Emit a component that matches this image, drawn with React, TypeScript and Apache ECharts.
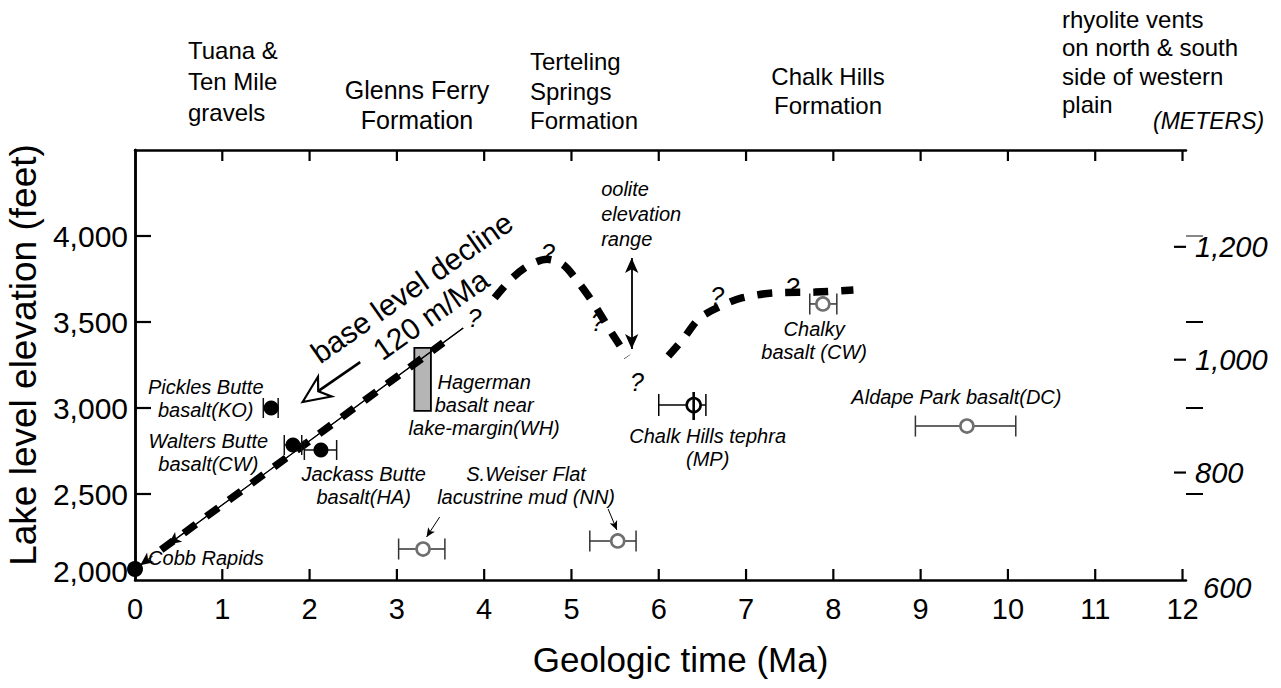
import React, { useEffect, useRef } from "react";
import * as echarts from "echarts";

const FONT = '"Liberation Sans", Arial, Helvetica, sans-serif';

// ---- axes ----
const AGE_MIN = 0;
const AGE_MAX = 12.04;
const AGE_STEP = 1;
const FEET_MIN = 2000;
const FEET_MAX = 4500;
const FEET_STEP = 500;
const FEET_TOP_LABEL_LIMIT = 4000;
const M_PER_FT = 0.3048;
const ageTicks = [1, 2, 3, 4, 5, 6, 7, 8, 9, 10, 11, 12];
const feetTicks = [2500, 3000, 3500, 4000];
const meterLabels = [800, 1000, 1200];
const rightFeetTicks = [2500, 3000, 3500];
const rightGrayTicks = [4000];

// ---- lake-level reconstruction ----
const trendAge = [0.38, 3.76];
const trendElev = [2206, 3465];
const declineAge = [0.3, 3.53];
const declineElev = [2176, 3379];
const highstandAge = [4.12, 4.3, 4.5, 4.72, 4.9, 5.05, 5.25, 5.45, 5.64];
const highstandElev = [3640, 3745, 3825, 3865, 3835, 3750, 3610, 3445, 3297];
const chalkHillsAge = [6.11, 6.27, 6.47, 6.74, 6.95, 7.31, 7.79, 8.23];
const chalkHillsElev = [3302, 3395, 3523, 3599, 3640, 3669, 3674, 3686];

// ---- dated samples ----
const cobbAge = [0];
const cobbElev = [2064];
const basaltAge = [1.56, 1.81, 2.13];
const basaltElev = [3000, 2785, 2756];
const basaltAgeMin = [1.47, 1.71, 1.94];
const basaltAgeMax = [1.64, 1.91, 2.31];

const openAge = [3.3, 5.53, 7.88, 9.53];
const openElev = [2180, 2227, 3605, 2895];
const openAgeMin = [3.02, 5.21, 7.73, 8.94];
const openAgeMax = [3.55, 5.74, 8.04, 10.09];

const tephraAge = [6.4];
const tephraElev = [3017];
const tephraAgeMin = [6.0];
const tephraAgeMax = [6.54];
const tephraElevMin = [2930];
const tephraElevMax = [3093];

const hagermanAge = [3.2, 3.39];
const hagermanElev = [2983, 3349];

const ooliteAge = [5.69];
const ooliteElev = [3343, 3872];

// ---- annotation anchors (data coordinates) ----
const sampleNotes = [
  { text: "Cobb Rapids", age: 0.15, elev: 2128, align: "left" },
  { text: "Pickles Butte\nbasalt(KO)", age: 0.81, elev: 3058, align: "center" },
  { text: "Walters Butte\nbasalt(CW)", age: 0.84, elev: 2744, align: "center" },
  { text: "Jackass Butte\nbasalt(HA)", age: 2.62, elev: 2549, align: "center" },
  { text: "Hagerman\nbasalt near\nlake-margin(WH)", age: 4.0, elev: 3017, align: "center" },
  { text: "S.Weiser Flat\nlacustrine mud (NN)", age: 4.48, elev: 2549, align: "center" },
  { text: "Chalk Hills tephra\n(MP)", age: 6.56, elev: 2770, align: "center" },
  { text: "Chalky\nbasalt (CW)", age: 7.78, elev: 3395, align: "center" },
  { text: "Aldape Park basalt(DC)", age: 9.41, elev: 3064, align: "center" },
  { text: "oolite\nelevation\nrange", age: 5.34, elev: 4128, align: "left" },
];
const queryAge = [3.89, 4.73, 5.3, 5.75, 6.67, 7.53];
const queryElev = [3523, 3901, 3500, 3151, 3651, 3703];
const declineNote = { text: "base level decline\n120 m/Ma", age: 3.28, elev: 3622 };
const declineArrow = { fromAge: 2.58, fromElev: 3267, toAge: 1.92, toElev: 3035 };
const pointerArrows = [
  { fromAge: 3.49, fromElev: 2366, toAge: 3.34, toElev: 2250 },
  { fromAge: 5.42, fromElev: 2413, toAge: 5.52, toElev: 2291 },
];
const cobbPointer = { fromAge: 0.2, fromElev: 2139, toAge: 0.06, toElev: 2086 };

const zip = (a: number[], b: number[]) => a.map((v, i) => [v, b[i]]);
const isWhole = (v: number) => Math.abs(v - Math.round(v)) < 1e-6;

function errorBar(cap: number, color: string, width: number) {
  return (params: any, api: any) => {
    const y = api.value(3);
    const a = api.coord([api.value(1), y]);
    const b = api.coord([api.value(2), y]);
    const st = { stroke: color, lineWidth: width };
    return {
      type: "group",
      children: [
        { type: "line", shape: { x1: a[0], y1: a[1], x2: b[0], y2: b[1] }, style: st },
        { type: "line", shape: { x1: a[0], y1: a[1] - cap, x2: a[0], y2: a[1] + cap }, style: st },
        { type: "line", shape: { x1: b[0], y1: b[1] - cap, x2: b[0], y2: b[1] + cap }, style: st },
      ],
    };
  };
}

const tickLine = (x1: number, y1: number, x2: number, y2: number) => ({
  type: "line",
  shape: { x1, y1, x2, y2 },
  style: { stroke: "#000", lineWidth: 2.2 },
});

function buildOption(): any {
  const axisLine = { show: true, lineStyle: { color: "#000", width: 2.5 } };
  const tickStyle = { color: "#000", width: 2 };
  const dashed = { color: "#000", width: 7.5, type: [15, 13], cap: "butt" };

  return {
    animation: false,
    backgroundColor: "#fff",
    grid: { left: 135, right: 95, top: 150, bottom: 108, containLabel: false, outerBoundsMode: "none" },
    xAxis: [
      {
        type: "value",
        min: AGE_MIN,
        max: AGE_MAX,
        interval: AGE_STEP,
        position: "bottom",
        axisLine,
        axisTick: { show: false },
        axisLabel: {
          fontSize: 29,
          color: "#000",
          fontFamily: FONT,
          margin: 14,
          showMaxLabel: false,
          formatter: (v: number) => (isWhole(v) ? String(Math.round(v)) : ""),
        },
        splitLine: { show: false },
        name: "Geologic time (Ma)",
        nameLocation: "middle",
        nameGap: 62,
        nameTextStyle: { fontSize: 35, color: "#000", fontFamily: FONT, padding: [0, 0, 0, 40] },
      },
      {
        type: "value",
        min: AGE_MIN,
        max: AGE_MAX,
        interval: AGE_STEP,
        position: "top",
        axisLine,
        axisTick: { show: false },
        axisLabel: { show: false },
        splitLine: { show: false },
      },
    ],
    yAxis: [
      {
        type: "value",
        min: FEET_MIN,
        max: FEET_MAX,
        interval: FEET_STEP,
        position: "left",
        axisLine,
        axisTick: { show: false },
        axisLabel: {
          fontSize: 30,
          color: "#000",
          fontFamily: FONT,
          margin: 7,
          formatter: (v: number) =>
            v === FEET_MIN ? `{low|${v.toLocaleString("en-US")}}` : v <= FEET_TOP_LABEL_LIMIT ? v.toLocaleString("en-US") : "",
          rich: { low: { fontSize: 30, color: "#000", fontFamily: FONT, padding: [0, 0, 18, 0] } },
        },
        splitLine: { show: false },
        name: "Lake level elevation (feet)",
        nameLocation: "middle",
        nameRotate: 90,
        nameGap: 82,
        nameTextStyle: { fontSize: 37, color: "#000", fontFamily: FONT, padding: [0, 0, 0, 20] },
      },
      {
        type: "value",
        min: FEET_MIN * M_PER_FT,
        max: FEET_MAX * M_PER_FT,
        position: "right",
        axisLine,
        axisTick: { show: false },
        axisLabel: {
          customValues: meterLabels,
          fontSize: 29,
          fontStyle: "italic",
          color: "#000",
          fontFamily: FONT,
          margin: 9,
          formatter: (v: number) => v.toLocaleString("en-US"),
        },
        splitLine: { show: false },
      },
      {
        type: "value",
        min: FEET_MIN,
        max: FEET_MAX,
        position: "right",
        axisLine: { show: false },
        axisTick: { show: true, inside: false, length: 17, customValues: rightFeetTicks, lineStyle: tickStyle },
        axisLabel: { show: false },
        splitLine: { show: false },
      },
      {
        type: "value",
        min: FEET_MIN,
        max: FEET_MAX,
        position: "right",
        axisLine: { show: false },
        axisTick: { show: true, inside: false, length: 17, customValues: rightGrayTicks, lineStyle: { color: "#888", width: 2 } },
        axisLabel: { show: false },
        splitLine: { show: false },
      },
    ],
    graphic: [
      { type: "text", x: 188, y: 81, style: { text: "Tuana &\nTen Mile\ngravels", fontSize: 24, lineHeight: 31, fontFamily: FONT, fill: "#000", align: "left", verticalAlign: "middle" } },
      { type: "text", x: 417, y: 105, style: { text: "Glenns Ferry\nFormation", fontSize: 25, lineHeight: 30, fontFamily: FONT, fill: "#000", align: "center", verticalAlign: "middle" } },
      { type: "text", x: 530, y: 91, style: { text: "Terteling\nSprings\nFormation", fontSize: 24, lineHeight: 29.5, fontFamily: FONT, fill: "#000", align: "left", verticalAlign: "middle" } },
      { type: "text", x: 828, y: 91, style: { text: "Chalk Hills\nFormation", fontSize: 24, lineHeight: 29, fontFamily: FONT, fill: "#000", align: "center", verticalAlign: "middle" } },
      { type: "text", x: 1062, y: 62, style: { text: "rhyolite vents\non north & south\nside of western\nplain", fontSize: 24, lineHeight: 28.5, fontFamily: FONT, fill: "#000", align: "left", verticalAlign: "middle" } },
      { type: "text", x: 1153, y: 121, style: { text: "(METERS)", fontSize: 23, fontStyle: "italic", fontFamily: FONT, fill: "#000", align: "left", verticalAlign: "middle" } },
      { type: "text", x: 1203, y: 588, style: { text: "600", fontSize: 29, fontStyle: "italic", fontFamily: FONT, fill: "#000", align: "left", verticalAlign: "middle" } },
    ],
    series: [
      {
        type: "custom",
        name: "Hagerman basalt",
        z: 1,
        renderItem: (params: any, api: any) => {
          const p1 = api.coord([api.value(0), api.value(3)]);
          const p2 = api.coord([api.value(1), api.value(2)]);
          return {
            type: "rect",
            shape: { x: p1[0], y: p1[1], width: p2[0] - p1[0], height: p2[1] - p1[1] },
            style: { fill: "#b5b5b5", stroke: "#000", lineWidth: 1.8 },
          };
        },
        encode: { x: [0, 1], y: [2, 3] },
        data: [[hagermanAge[0], hagermanAge[1], hagermanElev[0], hagermanElev[1]]],
      },
      {
        type: "custom",
        name: "age ticks",
        z: 2,
        clip: false,
        renderItem: (params: any, api: any) => {
          const b = api.coord([api.value(0), FEET_MIN]);
          const t = api.coord([api.value(0), FEET_MAX]);
          return { type: "group", children: [tickLine(b[0], b[1], b[0], b[1] - 11), tickLine(t[0], t[1], t[0], t[1] + 11)] };
        },
        encode: { x: 0, y: 1 },
        data: ageTicks.map((a) => [a, FEET_MIN]),
      },
      {
        type: "custom",
        name: "feet ticks",
        z: 2,
        clip: false,
        renderItem: (params: any, api: any) => {
          const p = api.coord([AGE_MIN, api.value(1)]);
          return tickLine(p[0], p[1], p[0] + 16, p[1]);
        },
        encode: { x: 0, y: 1 },
        data: feetTicks.map((f) => [AGE_MIN, f]),
      },
      {
        type: "custom",
        name: "meter ticks",
        z: 2,
        clip: false,
        renderItem: (params: any, api: any) => {
          const p = api.coord([AGE_MAX, api.value(1)]);
          return tickLine(p[0] - 12, p[1], p[0], p[1]);
        },
        encode: { x: 0, y: 1 },
        data: meterLabels.map((m) => [AGE_MAX, m / M_PER_FT]),
      },
      {
        type: "line",
        name: "base level trend",
        z: 2,
        data: zip(trendAge, trendElev),
        symbol: "none",
        lineStyle: { color: "#000", width: 1.1 },
        markLine: {
          silent: true,
          symbol: ["none", "arrow"],
          symbolSize: [9, 13],
          label: { show: false },
          lineStyle: { color: "#000", width: 1.1, type: "solid" },
          data: [
            [{ coord: [trendAge[1], trendElev[1]] }, { coord: [trendAge[0], trendElev[0]] }],
            [{ coord: [cobbPointer.fromAge, cobbPointer.fromElev] }, { coord: [cobbPointer.toAge, cobbPointer.toElev] }],
          ],
        },
      },
      { type: "line", name: "decline", z: 3, data: zip(declineAge, declineElev), symbol: "none", lineStyle: dashed },
      { type: "line", name: "highstand", z: 3, data: zip(highstandAge, highstandElev), smooth: 0.3, symbol: "none", lineStyle: dashed },
      { type: "line", name: "Chalk Hills lake", z: 3, data: zip(chalkHillsAge, chalkHillsElev), smooth: 0.3, symbol: "none", lineStyle: dashed },
      {
        type: "custom",
        name: "basalt error",
        z: 4,
        renderItem: errorBar(10, "#111", 1.5),
        encode: { x: [0, 1, 2], y: 3 },
        data: basaltAge.map((a, i) => [a, basaltAgeMin[i], basaltAgeMax[i], basaltElev[i]]),
      },
      {
        type: "custom",
        name: "open error",
        z: 4,
        renderItem: errorBar(10.5, "#333", 1.5),
        encode: { x: [0, 1, 2], y: 3 },
        data: openAge.map((a, i) => [a, openAgeMin[i], openAgeMax[i], openElev[i]]),
      },
      {
        type: "custom",
        name: "tephra error",
        z: 4,
        renderItem: errorBar(11, "#000", 1.5),
        encode: { x: [0, 1, 2], y: 3 },
        data: tephraAge.map((a, i) => [a, tephraAgeMin[i], tephraAgeMax[i], tephraElev[i]]),
      },
      {
        type: "scatter",
        name: "basalts",
        z: 5,
        symbolSize: 15,
        itemStyle: { color: "#000", opacity: 1 },
        data: zip(basaltAge, basaltElev),
      },
      {
        type: "scatter",
        name: "Cobb Rapids",
        z: 5,
        clip: false,
        symbolSize: 16,
        itemStyle: { color: "#000", opacity: 1 },
        data: zip(cobbAge, cobbElev),
      },
      {
        type: "scatter",
        name: "open samples",
        z: 5,
        symbolSize: 13,
        itemStyle: { color: "#fff", borderColor: "#6f6f6f", borderWidth: 2.6, opacity: 1 },
        data: zip(openAge, openElev),
        markLine: {
          silent: true,
          symbol: ["none", "arrow"],
          symbolSize: [6, 9],
          label: { show: false },
          lineStyle: { color: "#000", width: 1, type: "solid" },
          data: pointerArrows.map((p) => [{ coord: [p.fromAge, p.fromElev] }, { coord: [p.toAge, p.toElev] }]),
        },
      },
      {
        type: "scatter",
        name: "tephra",
        z: 5,
        symbolSize: 14,
        itemStyle: { color: "#fff", borderColor: "#000", borderWidth: 2.6, opacity: 1 },
        data: zip(tephraAge, tephraElev),
        markLine: {
          silent: true,
          symbol: ["arrow", "arrow"],
          symbolSize: [10, 15],
          label: { show: false },
          lineStyle: { color: "#000", width: 1.8, type: "solid" },
          data: [[{ coord: [ooliteAge[0], ooliteElev[0]] }, { coord: [ooliteAge[0], ooliteElev[1]] }]],
        },
      },
      {
        type: "custom",
        name: "tephra vertical",
        z: 6,
        renderItem: (params: any, api: any) => {
          const a = api.coord([api.value(0), api.value(1)]);
          const b = api.coord([api.value(0), api.value(2)]);
          return { type: "line", shape: { x1: a[0], y1: a[1], x2: b[0], y2: b[1] }, style: { stroke: "#000", lineWidth: 2.6 } };
        },
        encode: { x: 0, y: [1, 2] },
        data: tephraAge.map((a, i) => [a, tephraElevMin[i], tephraElevMax[i]]),
      },
      {
        type: "custom",
        name: "decline arrow",
        z: 6,
        renderItem: (params: any, api: any) => {
          const tail = api.coord([api.value(0), api.value(1)]);
          const tip = api.coord([api.value(2), api.value(3)]);
          const dx = tip[0] - tail[0];
          const dy = tip[1] - tail[1];
          const L = Math.hypot(dx, dy);
          const ux = dx / L, uy = dy / L, px = -uy, py = ux;
          const headLen = 27, headW = 12, notch = 8;
          const base = [tip[0] - ux * headLen, tip[1] - uy * headLen];
          const nP = [tip[0] - ux * (headLen - notch), tip[1] - uy * (headLen - notch)];
          return {
            type: "group",
            children: [
              { type: "line", shape: { x1: tail[0], y1: tail[1], x2: nP[0], y2: nP[1] }, style: { stroke: "#000", lineWidth: 2.6 } },
              {
                type: "polygon",
                shape: { points: [tip, [base[0] + px * headW, base[1] + py * headW], nP, [base[0] - px * headW, base[1] - py * headW]] },
                style: { fill: "#fff", stroke: "#000", lineWidth: 2.2 },
              },
            ],
          };
        },
        encode: { x: [0, 2], y: [1, 3] },
        data: [[declineArrow.fromAge, declineArrow.fromElev, declineArrow.toAge, declineArrow.toElev]],
      },
      {
        type: "custom",
        name: "sample notes",
        z: 10,
        clip: false,
        renderItem: (params: any, api: any) => {
          const n = sampleNotes[params.dataIndex];
          const p = api.coord([api.value(0), api.value(1)]);
          const isOolite = n.text.startsWith("oolite");
          return {
            type: "text",
            x: p[0],
            y: p[1],
            style: {
              text: n.text,
              fill: "#000",
              fontSize: 20,
              fontStyle: "italic",
              fontFamily: FONT,
              lineHeight: isOolite ? 25 : 23,
              align: n.align,
              verticalAlign: "middle",
            },
          };
        },
        data: sampleNotes.map((n) => [n.age, n.elev]),
      },
      {
        type: "custom",
        name: "query marks",
        z: 10,
        clip: false,
        renderItem: (params: any, api: any) => {
          const p = api.coord([api.value(0), api.value(1)]);
          return {
            type: "text",
            x: p[0],
            y: p[1],
            style: { text: "?", fill: "#000", fontSize: 25, fontStyle: "italic", fontFamily: FONT, align: "center", verticalAlign: "middle" },
          };
        },
        data: zip(queryAge, queryElev),
      },
      {
        type: "custom",
        name: "decline note",
        z: 10,
        clip: false,
        renderItem: (params: any, api: any) => {
          const p = api.coord([api.value(0), api.value(1)]);
          return {
            type: "text",
            x: p[0],
            y: p[1],
            rotation: (35 * Math.PI) / 180,
            style: {
              text: declineNote.text,
              fill: "#000",
              fontSize: 30,
              fontFamily: FONT,
              lineHeight: 33,
              align: "center",
              verticalAlign: "middle",
            },
          };
        },
        data: [[declineNote.age, declineNote.elev]],
      },
    ],
  };
}

export default function App() {
  const ref = useRef<HTMLDivElement>(null);
  useEffect(() => {
    if (!ref.current) return;
    const chart = echarts.init(ref.current, null, { renderer: "svg" });
    chart.setOption(buildOption());
    return () => chart.dispose();
  }, []);
  return (
    <div
      ref={ref}
      style={{ position: "fixed", left: 0, top: 0, width: 1281, height: 688, background: "#fff" }}
    />
  );
}
